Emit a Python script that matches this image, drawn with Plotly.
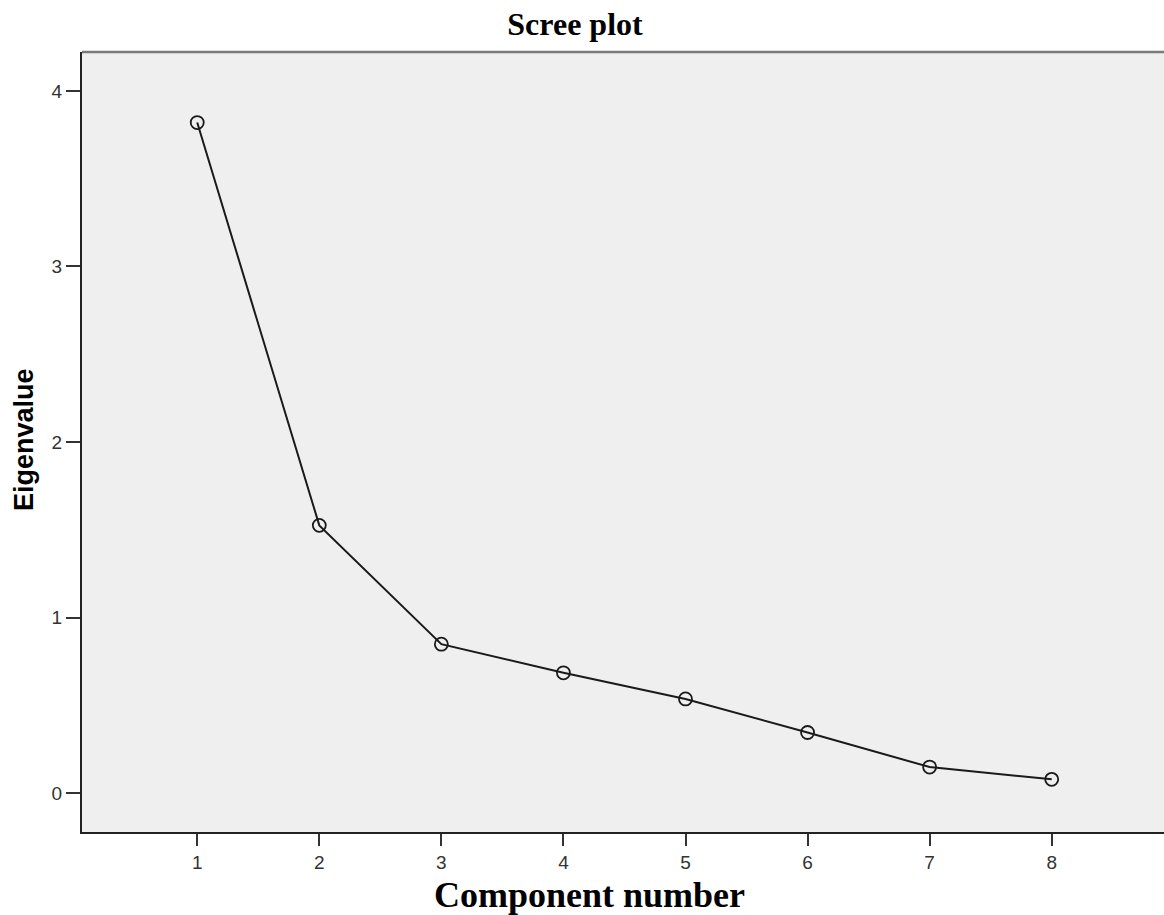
import plotly.graph_objects as go

components = [1, 2, 3, 4, 5, 6, 7, 8]
eigenvalues = [3.82, 1.525, 0.848, 0.685, 0.536, 0.345, 0.148, 0.078]
x_ticks = [1, 2, 3, 4, 5, 6, 7, 8]
y_ticks = [0, 1, 2, 3, 4]

W, H = 1164, 915
L, R, T, B = 82, 0, 52, 83
PW, PH = W - L - R, H - T - B

def px(x):
    return (x - L) / PW

def py(y):
    return (H - B - y) / PH

fig = go.Figure()
fig.add_trace(go.Scatter(
    x=components, y=eigenvalues, mode="lines+markers",
    line=dict(color="#1a1a1a", width=2),
    marker=dict(symbol="circle-open", size=13, color="#1a1a1a", line=dict(width=1.8)),
    showlegend=False, cliponaxis=False,
))

fig.update_layout(
    width=W, height=H,
    margin=dict(l=L, r=R, t=T, b=B),
    paper_bgcolor="white", plot_bgcolor="#EFEFEF",
    font=dict(family="Liberation Sans, Arial", size=20, color="#222"),
    title=dict(text="<b>Scree plot</b>", x=575 / W, xref="container", xanchor="center",
               y=1 - 24 / H, yref="container", yanchor="middle",
               font=dict(family="Liberation Serif, Times New Roman", size=32, color="black")),
)
fig.update_xaxes(
    range=[0.056, 8.92], tickvals=x_ticks, ticktext=[str(v) for v in x_ticks],
    showgrid=False, zeroline=False, showline=True, linecolor="#222", linewidth=2,
    ticks="outside", ticklen=12, tickwidth=2, tickcolor="#333",
    tickfont=dict(size=19, color="#333"),
)
fig.update_yaxes(
    range=[-0.222, 4.222], tickvals=y_ticks, ticktext=[str(v) for v in y_ticks],
    showgrid=False, zeroline=False, showline=True, linecolor="#222", linewidth=2,
    ticks="outside", ticklen=14, tickwidth=2, tickcolor="#333",
    tickfont=dict(size=19, color="#333"),
)
# top border line
fig.add_shape(type="line", xref="paper", yref="paper", x0=0, x1=1, y0=1, y1=1,
              line=dict(color="#7a7a7a", width=2.5))

fig.add_annotation(text="<b>Component number</b>", xref="paper", yref="paper",
                   x=px(589), y=py(895), xanchor="center", yanchor="middle",
                   showarrow=False,
                   font=dict(family="Liberation Serif, Times New Roman", size=36, color="black"))
fig.add_annotation(text="<b>Eigenvalue</b>", xref="paper", yref="paper",
                   x=px(24), y=py(440), xanchor="center", yanchor="middle",
                   textangle=-90, showarrow=False,
                   font=dict(family="Liberation Sans, Arial", size=27, color="black"))

fig.write_html("out.html", config={"displayModeBar": False},
               post_script="document.body.style.margin='0';document.body.style.padding='0';")
